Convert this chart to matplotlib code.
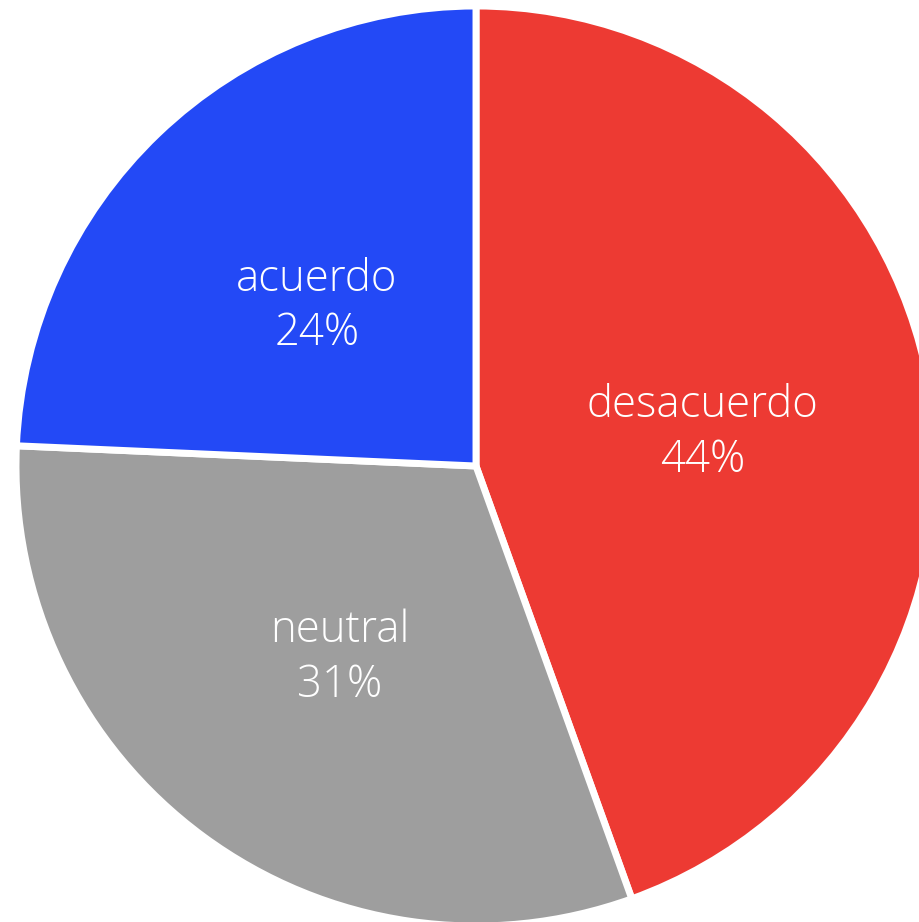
import matplotlib
matplotlib.use('Agg')
import matplotlib.pyplot as plt
from matplotlib.transforms import ScaledTranslation

labels = ['desacuerdo', 'neutral', 'acuerdo']
values = [44.5, 31.2, 24.3]
colors = ['#ED3A33', '#9E9E9E', '#2349F6']

plt.rcParams['font.family'] = ['Open Sans', 'DejaVu Sans']

fig = plt.figure(figsize=(9.19, 9.22), dpi=100)
ax = fig.add_axes([0, 0, 1, 1])

texts = [f'{l}\n{round(v)}%' for l, v in zip(labels, values)]
wedges, label_texts = ax.pie(values, labels=texts, colors=colors, startangle=90,
                             counterclock=False, labeldistance=0.5,
                             wedgeprops=dict(edgecolor='white', linewidth=5),
                             textprops=dict(color='white', fontsize=31.5,
                                            fontweight='light', ha='center',
                                            va='center', linespacing=1.3))

# nudge labels down a little
for t in label_texts:
    t.set_transform(t.get_transform() + ScaledTranslation(0, -0.07, fig.dpi_scale_trans))

# center at pixel (476, 466), radius 460 px
ax.set_xlim(-476 / 460, (919 - 476) / 460)
ax.set_ylim(-(922 - 466) / 460, 466 / 460)
ax.set_aspect('auto')
ax.axis('off')

fig.savefig('out.png', dpi=100)
